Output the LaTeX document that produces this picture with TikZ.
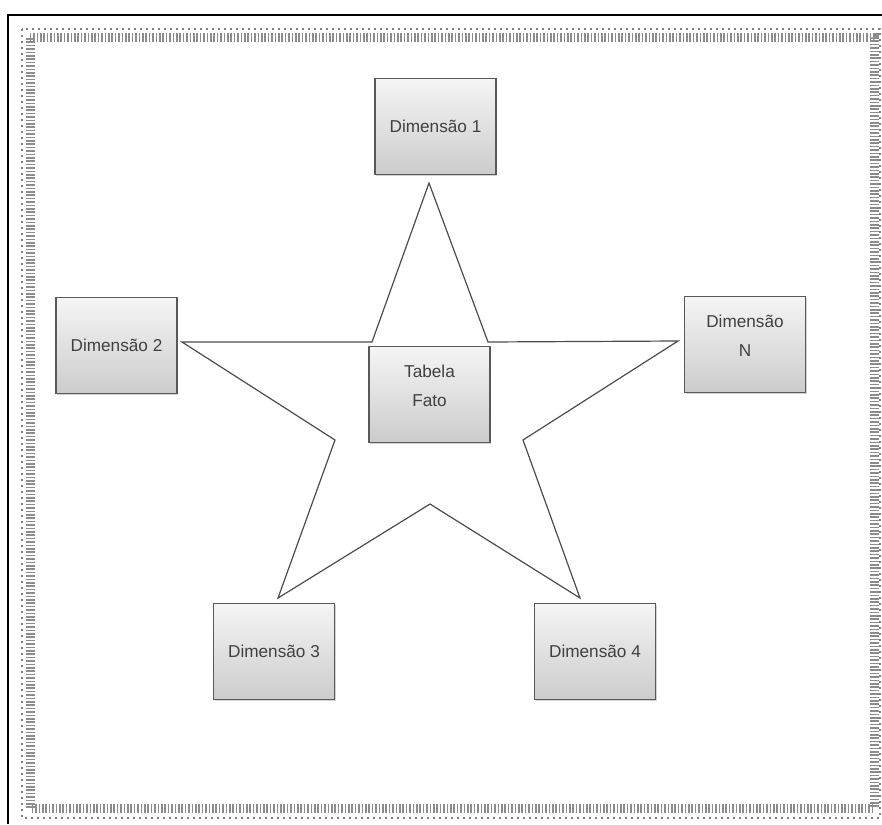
\documentclass[tikz,border=0pt]{standalone}
\usepackage{fontspec}
\setmainfont{Liberation Sans}
\usetikzlibrary{shadows}
\begin{document}
\begin{tikzpicture}[x=0.5pt,y=-0.5pt,
  every node/.style={font=\fontsize{8.6}{14.5}\selectfont,text=black!75},
  dimbox/.style={draw=black!65,line width=0.7pt,top color=gray!8,bottom color=gray!40,
    minimum width=60.5pt,minimum height=48pt,align=center,
    drop shadow={shadow xshift=0.7pt,shadow yshift=-0.7pt,opacity=0.35}},
  starline/.style={draw=black!70,line width=0.6pt,line join=miter}]
  \useasboundingbox (0,0) rectangle (882,824);
  % outer frame and dotted border
  \draw[line width=1pt] (8,824) -- (8,15) -- (882,15);
  \draw[black!50,line width=1.2pt,dash pattern=on 0.8pt off 2.2pt] (22,29) rectangle (880,818);
  \draw[black!45,line width=4.5pt,dash pattern=on 0.8pt off 0.9pt] (30,38) rectangle (874,808);
  % star
  \draw[starline] (429,183) -- (488,342) -- (678,341) -- (523,440) -- (580,598)
    -- (430,504) -- (278,598) -- (335,440) -- (182,342) -- (372,342) -- cycle;
  % boxes
  \foreach \name/\x/\y/\txt in {d1/435.5/126.5/{Dimensão 1}, d2/116.5/345.5/{Dimensão 2},
      dn/745/344.5/{Dimensão\\N\\[-6pt]}, d3/274/651.5/{Dimensão 3}, d4/595/651.5/{Dimensão 4},
      fato/429.5/394.5/{Tabela\\Fato\\[-6pt]}} {
    \node[dimbox] (\name) at (\x,\y) {\txt};
  }
\end{tikzpicture}
\end{document}
